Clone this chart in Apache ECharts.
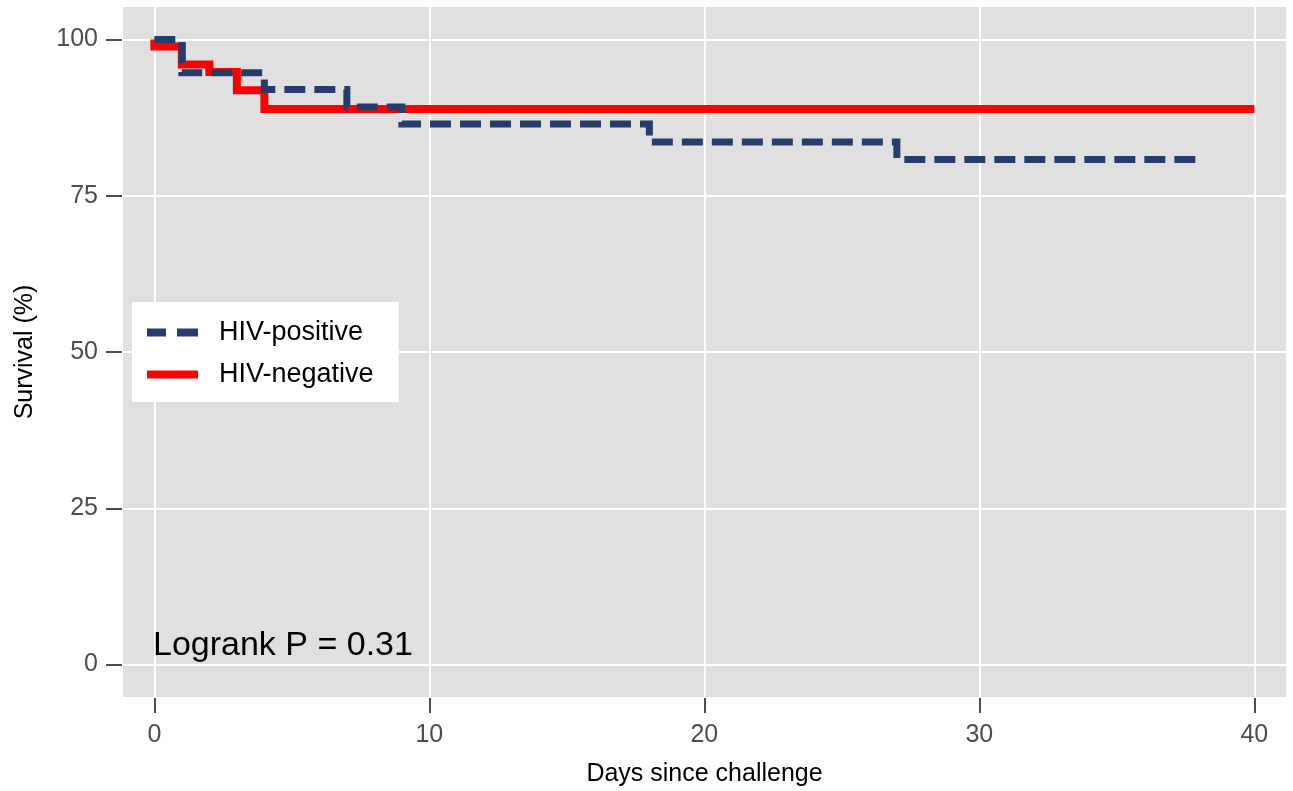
<!DOCTYPE html>
<html>
<head>
<meta charset="utf-8">
<script src="https://cdn.jsdelivr.net/npm/echarts@6/dist/echarts.min.js"></script>
<style>
  html, body { margin: 0; padding: 0; background: #fff; }
  #km-chart { width: 1293px; height: 791px; }
</style>
</head>
<body>
<div id="km-chart"></div>
<script>
// Kaplan-Meier estimates (day, survival %)
var posDays = [0, 1, 4, 7, 9, 18, 27, 38];
var posSurvival = [100, 94.7, 92.0, 89.2, 86.5, 83.6, 80.8, 80.8];
var negDays = [0, 0, 1, 2, 3, 4, 40];
var negSurvival = [100, 98.9, 96.0, 94.8, 91.9, 88.9, 88.9];
var xTicks = [0, 10, 20, 30, 40];
var yTicks = [0, 25, 50, 75, 100];
var seriesNames = ["HIV-positive", "HIV-negative"];
var pValueText = "Logrank P = 0.31";

function zipPoints(xs, ys) {
  return xs.map(function (x, i) { return [x, ys[i]]; });
}

var fontFamily = "'Liberation Sans', Arial, Helvetica, sans-serif";
var tickGrey = "#4d4d4d";
var navy = "#263d6b";
var red = "#ff0000";

var dom = document.getElementById("km-chart");
var myChart = echarts.init(dom, null, { renderer: "canvas" });

var option = {
  animation: false,
  backgroundColor: "#ffffff",
  textStyle: { fontFamily: fontFamily },
  grid: {
    left: 123,
    right: 7,
    top: 7,
    bottom: 94,
    show: true,
    backgroundColor: "#e0e0e0",
    borderWidth: 0,
    containLabel: false,
    outerBoundsMode: "none",
  },
  title: {
    text: pValueText,
    left: 153,
    top: 629,
    padding: 0,
    textStyle: { fontSize: 34, fontWeight: "normal", color: "#000", fontFamily: fontFamily },
  },
  legend: {
    data: [
      { name: seriesNames[0], icon: "path://M0,0h19v8h-19z M30,0h21v8h-21z" },
      { name: seriesNames[1], icon: "path://M0,0h51v8h-51z" },
    ],
    orient: "vertical",
    left: 132,
    top: 302,
    padding: [17, 25, 14, 15],
    backgroundColor: "#ffffff",
    itemWidth: 51,
    itemHeight: 24,
    itemGap: 15,
    textStyle: { fontSize: 27, color: "#000", fontFamily: fontFamily, padding: [0, 0, 0, 16] },
  },
  xAxis: {
    type: "value",
    min: -1.14,
    max: 41.15,
    offset: 1,
    name: "Days since challenge",
    nameLocation: "middle",
    nameGap: 64,
    nameMoveOverlap: false,
    nameTextStyle: { fontSize: 25, color: "#000", fontFamily: fontFamily },
    axisLine: { show: false, onZero: false },
    axisTick: { show: true, length: 15, customValues: xTicks, lineStyle: { color: tickGrey, width: 2 } },
    axisLabel: { customValues: xTicks, margin: 25, fontSize: 25, color: tickGrey, fontFamily: fontFamily },
    splitLine: { show: true, lineStyle: { color: "#ffffff", width: 2 } },
  },
  yAxis: {
    type: "value",
    min: -5.2,
    max: 105.2,
    offset: 1,
    name: "Survival (%)",
    nameLocation: "middle",
    nameGap: 84,
    nameMoveOverlap: false,
    nameTextStyle: { fontSize: 25, color: "#000", fontFamily: fontFamily },
    axisLine: { show: false, onZero: false },
    axisTick: { show: true, length: 16, customValues: yTicks, lineStyle: { color: tickGrey, width: 2 } },
    axisLabel: { customValues: yTicks, margin: 24, fontSize: 25, color: tickGrey, fontFamily: fontFamily },
    splitLine: { show: true, lineStyle: { color: "#ffffff", width: 2 } },
  },
  series: [
    {
      name: seriesNames[1],
      type: "line",
      step: "end",
      symbol: "none",
      z: 2,
      data: zipPoints(negDays, negSurvival),
      lineStyle: { color: red, width: 8, cap: "butt", join: "miter" },
      itemStyle: { color: red },
    },
    {
      name: seriesNames[0],
      type: "line",
      step: "end",
      symbol: "none",
      z: 3,
      data: zipPoints(posDays, posSurvival),
      lineStyle: { color: navy, width: 7, type: [21, 9], cap: "butt", join: "miter" },
      itemStyle: { color: navy },
    },
  ],
};

option && "object" == typeof option && myChart.setOption(option, true);
</script>
</body>
</html>
